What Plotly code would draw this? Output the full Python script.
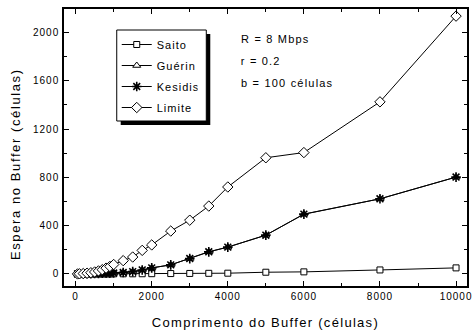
import plotly.graph_objects as go

buffer_len = [50, 100, 200, 300, 400, 500, 600, 700, 800, 900, 1000, 1250, 1500, 1750,
              2000, 2500, 3000, 3500, 4000, 5000, 6000, 8000, 10000]
saito = [0, 0, 0, 0, 0, 0, 0, 0, 0.5, 0.5, 1, 1, 1, 1.5, 2, 3, 4, 5, 6, 14, 17, 33, 50]
guerin = [0, 0, 1, 1, 2, 3, 4, 5, 6, 7, 8, 12, 19, 33, 50, 75, 127, 183, 222, 321, 495, 622, 802]
kesidis = [0, 0, 1, 1, 2, 3, 4, 5, 6, 7, 8, 12, 19, 33, 50, 75, 127, 183, 222, 321, 495, 622, 802]
limite = [0, 1, 3, 6, 10, 16, 25, 35, 48, 62, 78, 110, 140, 195, 240, 355, 445, 562, 720, 962,
          1005, 1425, 2135]

x_ticks = [0, 2000, 4000, 6000, 8000, 10000]
y_ticks = [0, 400, 800, 1200, 1600, 2000]
params_text = ["R = 8 Mbps", "r = 0.2", "b = 100 células"]

FONT = "Liberation Sans, Arial, sans-serif"

fig = go.Figure()
series = [
    ("Saito", saito, dict(symbol="square", size=6, color="white", line=dict(color="black", width=1))),
    ("Guérin", guerin, dict(symbol="triangle-up", size=7, color="white", line=dict(color="black", width=1))),
    ("Kesidis", kesidis, dict(symbol="asterisk-open", size=8, color="black", line=dict(color="black", width=1.6))),
    ("Limite", limite, dict(symbol="diamond", size=8, color="white", line=dict(color="black", width=1))),
]
for name, ys, mk in series:
    fig.add_trace(go.Scatter(x=buffer_len, y=ys, name=name, legendgroup=name, mode="lines+markers",
                             line=dict(color="black", width=1), marker=mk))

axis_common = dict(
    showline=True, linecolor="black", linewidth=1.5, mirror="allticks",
    ticks="inside", ticklen=5, tickwidth=1, tickcolor="black",
    showgrid=False, zeroline=False,
    tickfont=dict(family=FONT, size=10, color="black"),
)
fig.update_xaxes(range=[-306, 10288], tickvals=x_ticks, ticktext=[str(v) for v in x_ticks],
                 minor=dict(ticks="inside", ticklen=3, dtick=1000, tick0=0, tickcolor="black"),
                 **axis_common)
fig.update_yaxes(range=[-100, 2194], tickvals=y_ticks, ticktext=[str(v) for v in y_ticks],
                 minor=dict(ticks="inside", ticklen=3, dtick=200, tick0=0, tickcolor="black"),
                 ticklabelstandoff=1,
                 **axis_common)

L, R, T, B = 64, 3, 9, 45
W, H = 472, 331
pw, ph = W - L - R, H - T - B

def px2paper(xp, yp):
    return (xp - L) / pw, (H - B - yp) / ph

lx, ly = px2paper(117, 30)
fig.update_layout(
    width=W, height=H, margin=dict(l=L, r=R, t=T, b=B),
    plot_bgcolor="white", paper_bgcolor="white",
    showlegend=True,
    legend=dict(x=lx, y=ly, xanchor="left", yanchor="top", bgcolor="rgba(0,0,0,0)",
                borderwidth=0,
                font=dict(family=FONT, size=11, color="black"), itemwidth=30,
                tracegroupgap=2),
)

# legend shadow and box
sx0, sy0 = px2paper(121, 34)
sx1, sy1 = px2paper(211, 125)
fig.add_shape(type="rect", xref="paper", yref="paper", x0=sx0, y0=sy1, x1=sx1, y1=sy0,
              fillcolor="black", line=dict(width=0), layer="above")
bx0, by0 = px2paper(117, 30)
bx1, by1 = px2paper(207, 121)
fig.add_shape(type="rect", xref="paper", yref="paper", x0=bx0, y0=by1, x1=bx1, y1=by0,
              fillcolor="white", line=dict(color="black", width=1), layer="above")

ANN_SP = 1.2
for i, txt in enumerate(params_text):
    # letter spacing grows the centred text both ways; compensate half of it
    ax, ay = px2paper(240 + len(txt) * ANN_SP / 2, 39 + 22 * i)
    fig.add_annotation(x=ax, y=ay, xref="paper", yref="paper", text=txt, showarrow=False,
                       xanchor="left", yanchor="middle",
                       font=dict(family=FONT, size=11, color="black"))

# axis titles
tx, ty = px2paper(266, 322)
fig.add_annotation(x=tx, y=ty, xref="paper", yref="paper", text="Comprimento do Buffer (células)",
                   showarrow=False, xanchor="center", yanchor="middle",
                   font=dict(family=FONT, size=13, color="black"))
tx, ty = px2paper(15, 164)
fig.add_annotation(x=tx, y=ty, xref="paper", yref="paper", text="Espera no Buffer (células)",
                   showarrow=False, xanchor="center", yanchor="middle", textangle=-90,
                   font=dict(family=FONT, size=13, color="black"))

post = """
var gd = document.getElementById('{plot_id}');
function sp(sel, v) { gd.querySelectorAll(sel).forEach(function(e){ e.style.letterSpacing = v; }); }
sp('.xtick text', '1px');
sp('.ytick text', '1px');
sp('.legendtext', '1px');
var anns = gd.querySelectorAll('.annotation-text');
var spacing = ['1.2px', '1.2px', '1.2px', '1.3px', '1.6px'];
anns.forEach(function(e, i){ e.style.letterSpacing = spacing[i] || '1px'; });
"""

fig.write_html("out.html", post_script=post)
